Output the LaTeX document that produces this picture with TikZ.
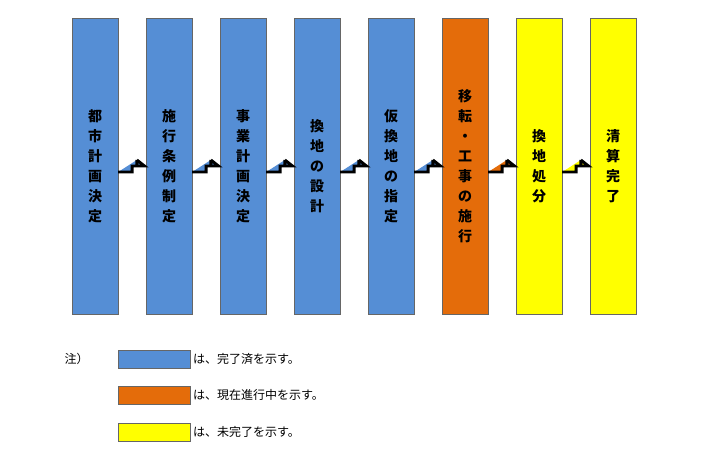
\documentclass[tikz,border=0pt]{standalone}
\usepackage{fontspec}
\setmainfont{Noto Sans CJK JP}
\usetikzlibrary{positioning}
\definecolor{doneblue}{HTML}{558ED5}
\definecolor{nowor}{HTML}{E46C0A}
\definecolor{todoyel}{HTML}{FFFF00}
\begin{document}
\begin{tikzpicture}[x=0.75pt,y=-0.75pt,line join=miter]
    % styles
    \tikzset{stage/.style={draw=black!60,line width=0.3pt,minimum width=34.5pt,minimum height=222pt,inner sep=0pt,
               font=\bfseries\fontsize{10.5}{15}\selectfont,align=center},
             legbox/.style={draw=black!60,line width=0.3pt,minimum width=54pt,minimum height=13.5pt,inner sep=0pt},
             legtxt/.style={font=\fontsize{9}{11}\selectfont,right=2pt,inner sep=0pt}}
    \useasboundingbox (0,0) rectangle (708,466);

    % stages
    \node[stage,fill=doneblue] (s1) at (95,166) {都\\市\\計\\画\\決\\定};
    \node[stage,fill=doneblue] (s2) at (169,166) {施\\行\\条\\例\\制\\定};
    \node[stage,fill=doneblue] (s3) at (243,166) {事\\業\\計\\画\\決\\定};
    \node[stage,fill=doneblue] (s4) at (317,166) {換\\地\\の\\設\\計};
    \node[stage,fill=doneblue] (s5) at (391,166) {仮\\換\\地\\の\\指\\定};
    \node[stage,fill=nowor]    (s6) at (465,166) {移\\転\\・\\工\\事\\の\\施\\行};
    \node[stage,fill=todoyel]  (s7) at (539,166) {換\\地\\処\\分};
    \node[stage,fill=todoyel]  (s8) at (613,166) {清\\算\\完\\了};

    % block arrows
    \foreach \a/\b/\c in {s1/s2/doneblue,s2/s3/doneblue,s3/s4/doneblue,s4/s5/doneblue,
                          s5/s6/doneblue,s6/s7/nowor,s7/s8/todoyel}{
      \draw[line width=2.2pt,fill=\c] ([yshift=-4.5pt]\a.east) -- ++(14,0) -- ++(0,-6)
         -- ([xshift=-1pt]\b.west) -- ([yshift=4.5pt,xshift=14]\a.east) ++(0,6)
         -- ++(0,-6) ++(0,-6) -- cycle;
    }

    % legend
    \node[font=\fontsize{9}{11}\selectfont,anchor=west] (note) at (60,359) {注）};
    \node[legbox,fill=doneblue] (l1) at (154,359) {};
    \node[legtxt] at (l1.east) {は、完了済を示す。};
    \node[legbox,fill=nowor] (l2) at (154,395) {};
    \node[legtxt] at (l2.east) {は、現在進行中を示す。};
    \node[legbox,fill=todoyel] (l3) at (154,432) {};
    \node[legtxt] at (l3.east) {は、未完了を示す。};
\end{tikzpicture}
\end{document}
